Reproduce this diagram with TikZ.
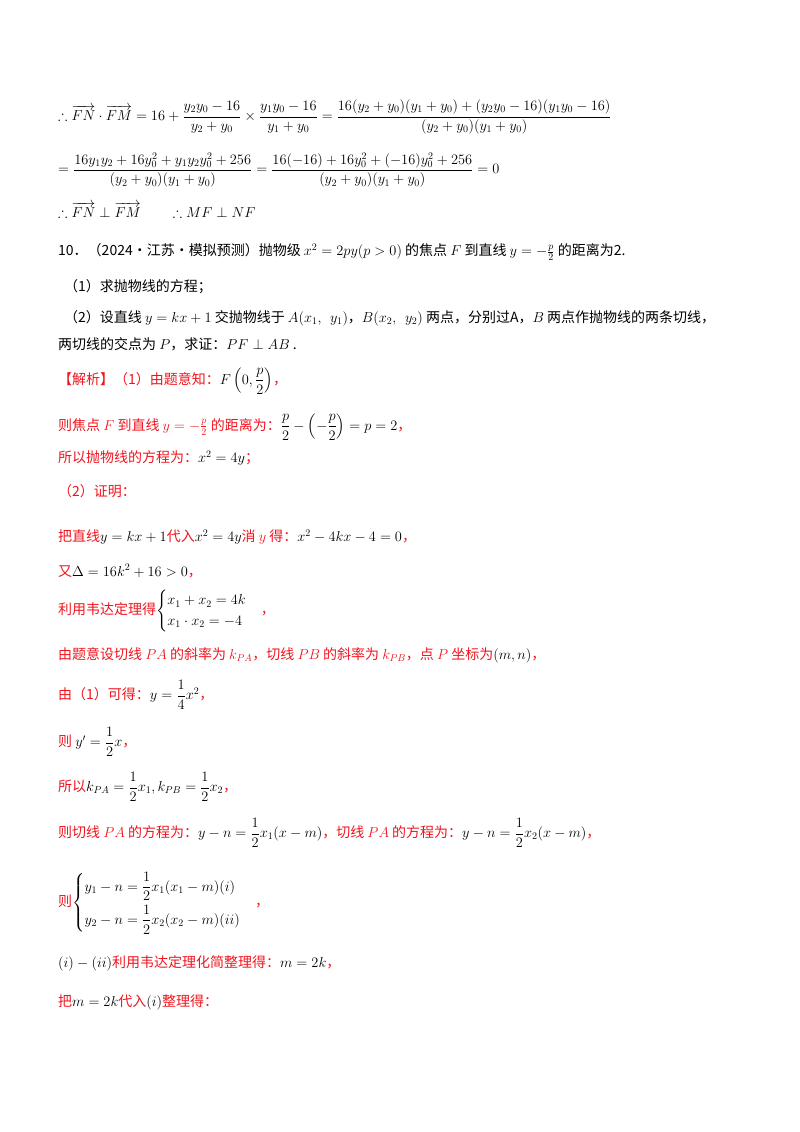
\documentclass[tikz,border=0pt]{standalone}
\usepackage{amsmath,amssymb}
\usepackage{fontspec}
\setmainfont{Liberation Serif}
\newfontfamily\cjk{Noto Sans CJK SC}
\definecolor{rd}{HTML}{F0141E}
\begin{document}
\begin{tikzpicture}[x=1pt,y=-1pt,
  ln/.style={anchor=west,inner sep=0pt,font=\fontsize{14}{17}\selectfont\cjk},
  rl/.style={ln,text=rd}]
\useasboundingbox (0,0) rectangle (800,1132);
\node[ln] (l1) at (58,117) {$\therefore \overrightarrow{FN}\cdot\overrightarrow{FM}=16+\dfrac{y_2y_0-16}{y_2+y_0}\times\dfrac{y_1y_0-16}{y_1+y_0}=\dfrac{16(y_2+y_0)(y_1+y_0)+(y_2y_0-16)(y_1y_0-16)}{(y_2+y_0)(y_1+y_0)}$};
\node[ln] (l2) at (58,170) {$=\dfrac{16y_1y_2+16y_0^2+y_1y_2y_0^2+256}{(y_2+y_0)(y_1+y_0)}=\dfrac{16(-16)+16y_0^2+(-16)y_0^2+256}{(y_2+y_0)(y_1+y_0)}=0$};
\node[ln] (l3) at (58,210) {$\therefore \overrightarrow{FN}\perp\overrightarrow{FM}\qquad\therefore MF\perp NF$};
\node[ln] (l4) at (58,252) {10．（2024·江苏·模拟预测）抛物级 $x^2=2py(p>0)$ 的焦点 $F$ 到直线 $y=-\frac{p}{2}$ 的距离为2.};
\node[ln] (l5) at (64,287) {（1）求抛物线的方程；};
\node[ln] (l6) at (64,318) {（2）设直线 $y=kx+1$ 交抛物线于 $A(x_1,\ \ y_1)$，$B(x_2,\ \ y_2)$ 两点，分别过A，$B$ 两点作抛物线的两条切线，};
\node[ln] (l7) at (58,344) {两切线的交点为 $P$，求证：$PF\perp AB$\ .};
\node[rl] (l8) at (58,381) {【解析】（1）由题意知：\textcolor{black}{$F\left(0,\dfrac{p}{2}\right)$}，};
\node[rl] (l9) at (58,427) {则焦点 $F$ 到直线 $y=-\frac{p}{2}$ 的距离为：\textcolor{black}{$\dfrac{p}{2}-\left(-\dfrac{p}{2}\right)=p=2$}，};
\node[rl] (l10) at (58,458) {所以抛物线的方程为：\textcolor{black}{$x^2=4y$}；};
\node[rl] (l11) at (58,491) {（2）证明：};
\node[rl] (l12) at (58,537) {把直线\textcolor{black}{$y=kx+1$}代入\textcolor{black}{$x^2=4y$}消 $y$ 得：\textcolor{black}{$x^2-4kx-4=0$}，};
\node[rl] (l13) at (58,571) {又\textcolor{black}{$\Delta=16k^2+16>0$}，};
\node[rl] (l14) at (58,611) {利用韦达定理得\textcolor{black}{$\begin{cases}x_1+x_2=4k\\ x_1\cdot x_2=-4\end{cases}$}，};
\node[rl] (l15) at (58,655) {由题意设切线 $PA$ 的斜率为 $k_{PA}$，切线 $PB$ 的斜率为 $k_{PB}$，点 $P$ 坐标为\textcolor{black}{$(m,n)$}，};
\node[rl] (l16) at (58,695) {由（1）可得：\textcolor{black}{$y=\dfrac{1}{4}x^2$}，};
\node[rl] (l17) at (58,742) {则 \textcolor{black}{$y'=\dfrac{1}{2}x$}，};
\node[rl] (l18) at (58,787) {所以\textcolor{black}{$k_{PA}=\dfrac{1}{2}x_1,k_{PB}=\dfrac{1}{2}x_2$}，};
\node[rl] (l19) at (58,833) {则切线 $PA$ 的方程为：\textcolor{black}{$y-n=\dfrac{1}{2}x_1(x-m)$}，切线 $PA$ 的方程为：\textcolor{black}{$y-n=\dfrac{1}{2}x_2(x-m)$}，};
\node[rl] (l20) at (58,903) {则\textcolor{black}{$\begin{cases}y_1-n=\dfrac{1}{2}x_1(x_1-m)(i)\\[8pt] y_2-n=\dfrac{1}{2}x_2(x_2-m)(ii)\end{cases}$}，};
\node[rl] (l21) at (58,963) {\textcolor{black}{$(i)-(ii)$}利用韦达定理化简整理得：\textcolor{black}{$m=2k$}，};
\node[rl] (l22) at (58,1002) {把\textcolor{black}{$m=2k$}代入\textcolor{black}{$(i)$}整理得：};
\end{tikzpicture}
\end{document}
